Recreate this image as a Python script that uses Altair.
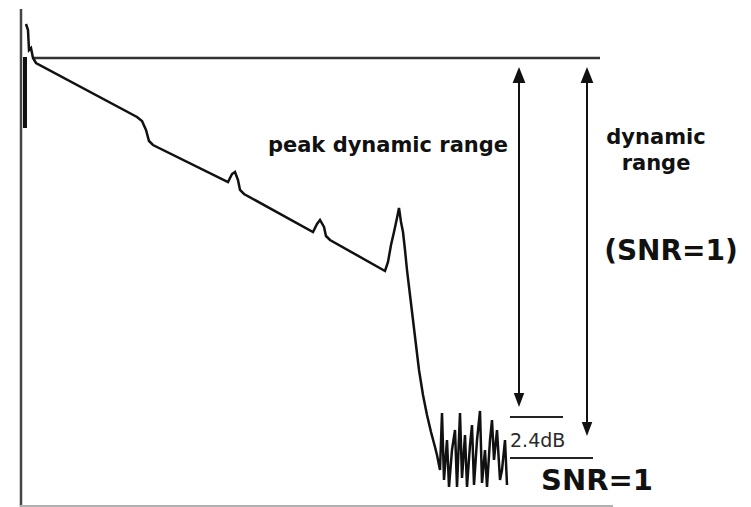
import altair as alt
import pandas as pd

# ---- data (distance units, level units) ----
trace_dist = [5, 7, 8, 10, 12, 15, 116, 121, 125, 128, 132, 207, 211, 214, 217, 219, 223,
              292, 296, 299, 303, 305, 309, 364, 367, 370, 373, 376, 378, 380, 382, 384,
              386, 389, 392, 395, 398, 402, 406, 410, 414, 416,
              419, 421, 423, 426, 428, 431, 434, 436, 439, 441, 444, 446, 449, 451, 453,
              456, 459, 461, 464, 466, 469, 471, 473, 476, 479, 481, 484, 486]
trace_level = [482, 476, 456, 458, 448, 443, 389, 385, 376, 365, 361, 324, 332, 334, 326, 316, 312,
               274, 282, 286, 279, 270, 266, 235, 244, 261, 274, 288, 298, 284, 274, 256,
               236, 211, 186, 161, 136, 111, 91, 74, 59, 51,
               36, 93, 26, 66, 19, 56, 76, 19, 93, 28, 71, 19, 61, 81, 21,
               66, 95, 23, 56, 19, 66, 86, 46, 76, 26, 36, 66, 21]

# straight reference lines: [dist1, dist2, level1, level2, stroke width, colour]
seg_x1 = [0, -1, 13, 489, 489, 4, 498, 566]
seg_x2 = [0, 592, 579, 542, 572, 4, 498, 566]
seg_y1 = [497, 0, 448, 89, 48, 449, 425, 425]
seg_y2 = [-1, 0, 448, 89, 48, 378, 104, 75]
seg_w = [2.5, 2, 2.5, 2, 2, 4, 2, 2]
seg_c = ["#444444", "#b0b0b0", "#333333", "#222222", "#222222", "#111111", "#111111", "#111111"]

# arrow heads
head_up_dist = [498, 566]
head_up_level = [431, 431]
head_dn_dist = [498, 566]
head_dn_level = [106, 77]

# labels
lab_text = ["peak dynamic range", "dynamic", "range", "(SNR=1)", "SNR=1"]
lab_dist = [367, 635, 635, 650, 576]
lab_level = [354, 362, 336, 246, 16]
lab_size = [21, 21, 21, 28, 29]

small_text = ["2.4dB"]
small_dist = [489]
small_level = [59]

X = alt.Scale(domain=[-13, 722], nice=False, zero=False)
Y = alt.Scale(domain=[-1, 498], nice=False, zero=False)

trace = pd.DataFrame({"d": trace_dist, "l": trace_level, "o": list(range(len(trace_dist)))})
segs = pd.DataFrame({"x1": seg_x1, "x2": seg_x2, "y1": seg_y1, "y2": seg_y2, "w": seg_w, "c": seg_c})
up = pd.DataFrame({"d": head_up_dist, "l": head_up_level})
dn = pd.DataFrame({"d": head_dn_dist, "l": head_dn_level})
labs = pd.DataFrame({"t": lab_text, "d": lab_dist, "l": lab_level, "s": lab_size})
sm = pd.DataFrame({"t": small_text, "d": small_dist, "l": small_level})

line = alt.Chart(trace).mark_line(color="#111111", strokeWidth=2.5, strokeJoin="miter").encode(
    x=alt.X("d:Q", scale=X, axis=None),
    y=alt.Y("l:Q", scale=Y, axis=None),
    order="o:O",
)

rules = alt.Chart(segs).mark_rule().encode(
    x=alt.X("x1:Q", scale=X, axis=None),
    x2="x2:Q",
    y=alt.Y("y1:Q", scale=Y, axis=None),
    y2="y2:Q",
    strokeWidth=alt.StrokeWidth("w:Q", scale=None, legend=None),
    color=alt.Color("c:N", scale=None, legend=None),
)

heads_up = alt.Chart(up).mark_point(
    shape="M0,-1L0.8,1L-0.8,1Z", filled=True, size=256, color="#111111", opacity=1
).encode(x=alt.X("d:Q", scale=X, axis=None), y=alt.Y("l:Q", scale=Y, axis=None))

heads_dn = alt.Chart(dn).mark_point(
    shape="M0,1L0.75,-1L-0.75,-1Z", filled=True, size=196, color="#111111", opacity=1
).encode(x=alt.X("d:Q", scale=X, axis=None), y=alt.Y("l:Q", scale=Y, axis=None))

labels = alt.Chart(labs).mark_text(
    font="DejaVu Sans", fontWeight="bold", align="center", baseline="alphabetic", color="#111111"
).encode(
    x=alt.X("d:Q", scale=X, axis=None),
    y=alt.Y("l:Q", scale=Y, axis=None),
    text="t:N",
    size=alt.Size("s:Q", scale=None, legend=None),
)

small = alt.Chart(sm).mark_text(
    font="DejaVu Sans", fontSize=19, align="left", baseline="alphabetic", color="#2a2a2a"
).encode(x=alt.X("d:Q", scale=X, axis=None), y=alt.Y("l:Q", scale=Y, axis=None), text="t:N")

chart = alt.layer(rules, line, heads_up, heads_dn, labels, small).properties(
    width=735, height=499, padding=0, autosize=alt.AutoSizeParams(type="none"), background="white"
).configure_view(stroke=None)

chart.save("out.html", embed_options={"renderer": "svg", "actions": False})
